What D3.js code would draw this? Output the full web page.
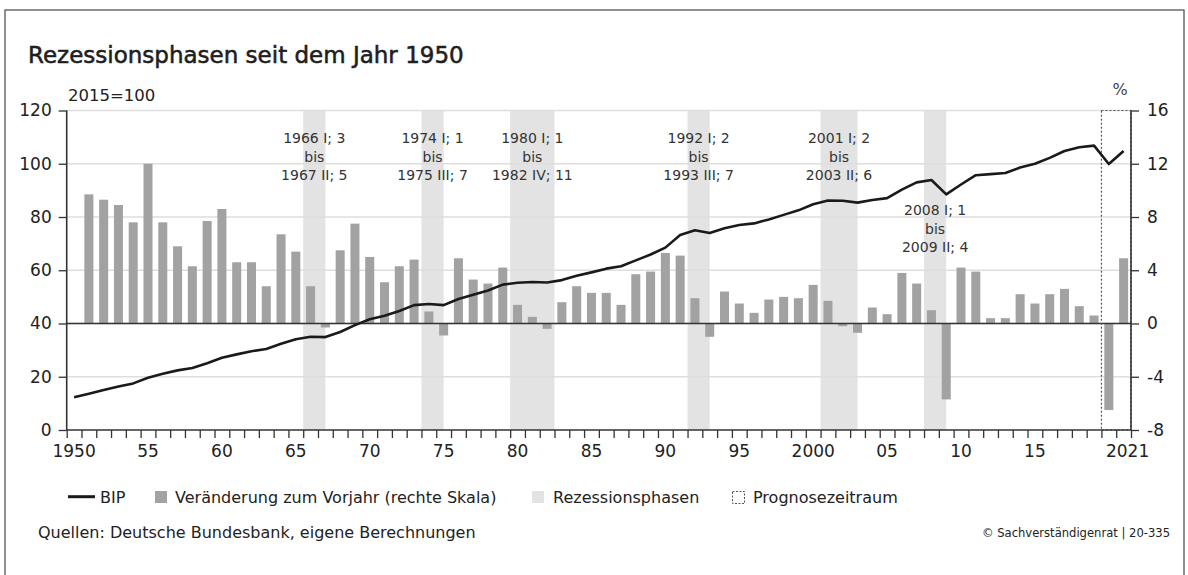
<!DOCTYPE html>
<html><head><meta charset="utf-8">
<script src="https://cdn.jsdelivr.net/npm/d3@7"></script>
<style>
html,body{margin:0;padding:0;background:#fff;}
svg text{font-family:"DejaVu Sans",sans-serif;fill:#222;}
</style></head>
<body><svg id="c" width="1188" height="575"></svg>
<script>
// ---- data ----
const years = d3.range(1950, 2022);
const bip = [12.3,13.6,15.0,16.3,17.5,19.6,21.1,22.4,23.3,25.1,27.1,28.4,29.6,30.4,32.4,34.1,35.0,34.9,36.8,39.4,
  41.6,42.9,44.7,46.9,47.3,46.9,49.2,50.8,52.4,54.6,55.3,55.6,55.4,56.3,57.9,59.2,60.6,61.5,63.7,65.9,
  68.5,73.2,75.0,74.0,75.8,77.0,77.6,79.1,80.8,82.5,84.8,86.2,86.1,85.4,86.4,87.1,90.3,93.0,93.9,88.5,
  92.2,95.7,96.1,96.5,98.6,100.0,102.2,104.8,106.2,106.8,99.9,104.8];
const growth = [null,9.7,9.3,8.9,7.6,12.0,7.6,5.8,4.3,7.7,8.6,4.6,4.6,2.8,6.7,5.4,2.8,-0.3,5.5,7.5,
  5.0,3.1,4.3,4.8,0.9,-0.9,4.9,3.3,3.0,4.2,1.4,0.5,-0.4,1.6,2.8,2.3,2.3,1.4,3.7,3.9,
  5.3,5.1,1.9,-1.0,2.4,1.5,0.8,1.8,2.0,1.9,2.9,1.7,-0.2,-0.7,1.2,0.7,3.8,3.0,1.0,-5.7,
  4.2,3.9,0.4,0.4,2.2,1.5,2.2,2.6,1.3,0.6,-6.5,4.9];
const recStart = [1966, 1974, 1980, 1992, 2001, 2008];
const recEnd   = [1967.5, 1975.5, 1983, 1993.5, 2003.5, 2009.5];
const recLabels = [["1966 I; 3","bis","1967 II; 5"],["1974 I; 1","bis","1975 III; 7"],["1980 I; 1","bis","1982 IV; 11"],
  ["1992 I; 2","bis","1993 III; 7"],["2001 I; 2","bis","2003 II; 6"],["2008 I; 1","bis","2009 II; 4"]];
const forecastYears = [2020, 2021];
const xLabelYears = [1950,1955,1960,1965,1970,1975,1980,1985,1990,1995,2000,2005,2010,2015,2021];
const xLabelText  = ["1950","55","60","65","70","75","80","85","90","95","2000","05","10","15","2021"];
const leftTicks = [0,20,40,60,80,100,120];
const rightTicks = [-8,-4,0,4,8,12,16];

// ---- layout ----
const L = 66.7, R = 1131, T = 110.5, B = 430;
const svg = d3.select("#c");
const xLin = d3.scaleLinear().domain([1950, 2022]).range([L, R]);
const xBand = d3.scaleBand().domain(years).range([L, R]).paddingInner(0.39).paddingOuter(0.195);
const xC = d3.scaleBand().domain(years).range([L, R]).padding(0);
const yL = d3.scaleLinear().domain([0, 120]).range([B, T]);
const yR = d3.scaleLinear().domain([-8, 16]).range([B, T]);

// frame
svg.append("rect").attr("x",5).attr("y",10).attr("width",1179).attr("height",600)
  .attr("fill","none").attr("stroke","#555").attr("stroke-width",1.3);

// title
svg.append("text").attr("x",28).attr("y",63).attr("font-size",23).style("fill","#1e1e1e")
  .attr("stroke","#1e1e1e").attr("stroke-width",0.55).text("Rezessionsphasen seit dem Jahr 1950");
svg.append("text").attr("x",68).attr("y",101).attr("font-size",16.5).text("2015=100");
svg.append("text").attr("x",1120).attr("y",95).attr("font-size",16).attr("text-anchor","middle").style("fill","#444").text("%");

// recession bands
svg.append("g").selectAll("rect").data(recStart).join("rect")
  .attr("x",(d)=>xLin(d)).attr("width",(d,i)=>xLin(recEnd[i])-xLin(d))
  .attr("y",T).attr("height",B-T).attr("fill","#e3e3e3");

// gridlines
svg.append("g").selectAll("line").data(leftTicks.filter(d=>d>0)).join("line")
  .attr("x1",L).attr("x2",R).attr("y1",d=>yL(d)).attr("y2",d=>yL(d))
  .attr("stroke","#dedede").attr("stroke-width",1.3);

// bars
const barData = years.map((y,i)=>({y, v:growth[i]})).filter(d=>d.v!==null);
svg.append("g").selectAll("rect").data(barData).join("rect")
  .attr("x",d=>xBand(d.y)).attr("width",xBand.bandwidth())
  .attr("y",d=>yR(Math.max(0,d.v))).attr("height",d=>Math.abs(yR(d.v)-yR(0)))
  .attr("fill","#a2a2a2");

// zero line (right scale)
svg.append("line").attr("x1",L).attr("x2",R).attr("y1",yR(0)).attr("y2",yR(0))
  .attr("stroke","#333").attr("stroke-width",1.5);

// forecast box
svg.append("rect").attr("x",xLin(forecastYears[0])).attr("y",T)
  .attr("width",xLin(forecastYears[forecastYears.length-1]+1)-xLin(forecastYears[0])).attr("height",B-T)
  .attr("fill","none").attr("stroke","#555").attr("stroke-width",1.2).attr("stroke-dasharray","2,2");

// BIP line
const line = d3.line().x((d,i)=>xC(years[i])+xC.bandwidth()/2).y(d=>yL(d));
svg.append("path").datum(bip).attr("d",line).attr("fill","none").attr("stroke","#1a1a1a")
  .attr("stroke-width",2.6).attr("stroke-linejoin","round");

// annotations
const ann = svg.append("g").attr("font-size",14).attr("text-anchor","middle");
recLabels.forEach((lab,i)=>{
  const cx = (xLin(recStart[i])+xLin(recEnd[i]))/2;
  const y0 = i===5 ? 215 : 143;
  lab.forEach((t,j)=>{
    ann.append("text").attr("x",cx).attr("y",y0+j*18.7).style("fill","#333").text(t);
  });
});

// axes
const axL = svg.append("g").attr("transform",`translate(${L},0)`)
  .call(d3.axisLeft(yL).tickValues(leftTicks).tickSize(8).tickPadding(7).tickFormat(d=>String(d)));
const axR = svg.append("g").attr("transform",`translate(${R},0)`)
  .call(d3.axisRight(yR).tickValues(rightTicks).tickSize(8).tickPadding(8).tickFormat(d=>String(d)));
const axB = svg.append("g").attr("transform",`translate(0,${B})`)
  .call(d3.axisBottom(xLin).tickValues(d3.range(1950,2023)).tickSize(8).tickFormat(""));
const axBL = svg.append("g").attr("transform",`translate(0,${B})`)
  .call(d3.axisBottom(xC).tickValues(xLabelYears).tickSize(0).tickPadding(14.5)
    .tickFormat(d=>xLabelText[xLabelYears.indexOf(d)]));
axBL.select(".domain").remove();
axBL.selectAll(".tick").filter(d=>d===2021).select("text").attr("dx",4);
[axL,axR,axB].forEach(a=>{
  a.select(".domain").attr("stroke","#333").attr("stroke-width",1.6);
  a.selectAll(".tick line").attr("stroke","#333").attr("stroke-width",1.3);
});
[axL,axR,axBL].forEach(a=>a.selectAll("text").attr("font-size",17).attr("font-family","DejaVu Sans").style("fill","#222"));
axL.select(".domain").attr("d",`M0,${T}V${B}`);
axR.select(".domain").attr("d",`M0,${T}V${B}`);
axB.select(".domain").attr("d",`M${L},0H${R}`);

// legend
const lg = svg.append("g").attr("font-size",16);
lg.append("line").attr("x1",68).attr("x2",95).attr("y1",496.7).attr("y2",496.7).attr("stroke","#1a1a1a").attr("stroke-width",3);
lg.append("text").attr("x",100).attr("y",503).text("BIP");
lg.append("rect").attr("x",155).attr("y",491).attr("width",12).attr("height",12).attr("fill","#a2a2a2");
lg.append("text").attr("x",175).attr("y",503).text("Veränderung zum Vorjahr (rechte Skala)");
lg.append("rect").attr("x",532).attr("y",491).attr("width",12).attr("height",12).attr("fill","#e3e3e3");
lg.append("text").attr("x",553).attr("y",503).text("Rezessionsphasen");
lg.append("rect").attr("x",732.5).attr("y",491.5).attr("width",12).attr("height",12).attr("fill","none")
  .attr("stroke","#555").attr("stroke-width",1).attr("stroke-dasharray","2,1.5");
lg.append("text").attr("x",753).attr("y",503).text("Prognosezeitraum");

// footer
svg.append("text").attr("x",38).attr("y",538).attr("font-size",16).text("Quellen: Deutsche Bundesbank, eigene Berechnungen");
svg.append("text").attr("x",1170).attr("y",537).attr("font-size",12).attr("text-anchor","end")
  .attr("textLength",188).attr("lengthAdjust","spacingAndGlyphs").style("fill","#222")
  .text("© Sachverständigenrat | 20-335");
</script>
</body></html>
